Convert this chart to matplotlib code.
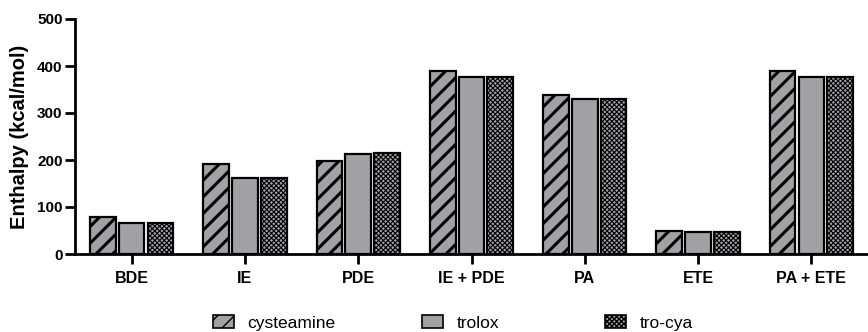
import numpy as np
import matplotlib.pyplot as plt
from matplotlib.patches import Patch

plt.rcParams['font.family'] = ['Liberation Sans', 'DejaVu Sans']

categories = ['BDE', 'IE', 'PDE', 'IE + PDE', 'PA', 'ETE', 'PA + ETE']
cysteamine = [78, 191, 197, 390, 339, 49, 390]
trolox = [65, 162, 213, 377, 330, 46, 377]
tro_cya = [65, 161, 214, 377, 330, 46, 377]

series = [('cysteamine', cysteamine, '//'),
          ('trolox', trolox, ''),
          ('tro-cya', tro_cya, 'xxxxxxx')]

fill = '#a2a2a6'
x = np.arange(len(categories))
pitch = 0.254
width = 0.226

fig = plt.figure(figsize=(8.68, 3.32), dpi=100)
ax = fig.add_axes([75 / 868, 1 - 254 / 332, 793 / 868, 235 / 332])

handles = []
for i, (name, vals, hatch) in enumerate(series):
    bars = ax.bar(x + (i - 1) * pitch, vals, width, color=fill,
                  edgecolor='black', linewidth=1.6, hatch=hatch, zorder=2)
    for b in bars:
        if hasattr(b, 'set_hatch_linewidth'):
            b.set_hatch_linewidth(2.2 if hatch == '//' else 0.8)
    h = Patch(facecolor=fill, edgecolor='black', linewidth=1.2, hatch=hatch)
    if hasattr(h, 'set_hatch_linewidth'):
        h.set_hatch_linewidth(1.6 if hatch == '//' else 0.6)
    handles.append(h)

ax.set_xlim(-0.5, 6.5)
ax.set_ylim(0, 500)
ax.set_yticks([0, 100, 200, 300, 400, 500])
ax.set_xticks(x)
ax.set_xticklabels(categories, fontsize=11.5, fontweight='bold')
for lab in ax.get_yticklabels():
    lab.set_fontsize(11)
    lab.set_fontweight('bold')
ax.set_ylabel('Enthalpy (kcal/mol)', fontsize=14.5, fontweight='bold', labelpad=6)

for s in ['top', 'right']:
    ax.spines[s].set_visible(False)
for s in ['left', 'bottom']:
    ax.spines[s].set_linewidth(2)
ax.tick_params(axis='both', width=2, length=7, pad=2)
ax.tick_params(axis='x', pad=5)

# one legend box per entry, placed like the original
legend_x = [213, 422, 605]
for h, (name, _, _), lx in zip(handles, series, legend_x):
    fig.legend([h], [name], loc='center left',
               bbox_to_anchor=(lx / 868, 1 - 323 / 332), frameon=False,
               fontsize=12.5, handlelength=1.2, handleheight=0.7,
               handletextpad=0.8, borderpad=0, borderaxespad=0)

fig.savefig('out.png', dpi=100)
